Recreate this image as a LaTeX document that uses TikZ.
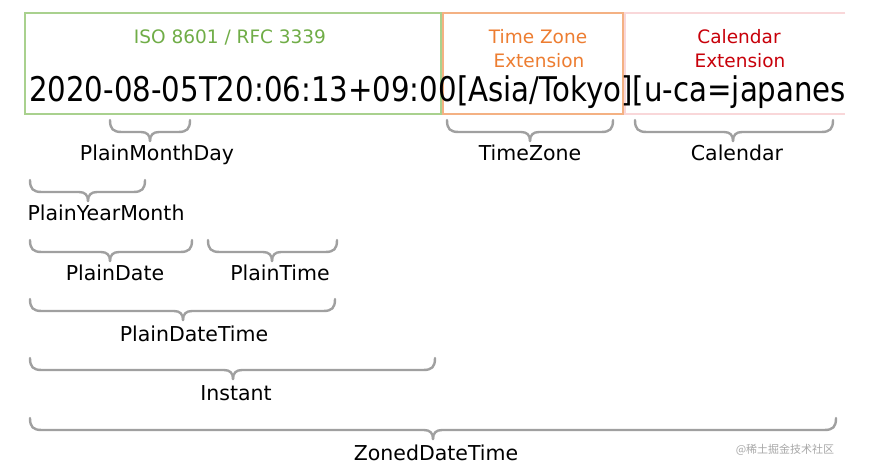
\documentclass[tikz,border=0pt]{standalone}
\usepackage{fontspec}
\setmainfont{DejaVu Sans}
\newfontfamily\cjkfont{Noto Sans CJK SC}
\usepackage{graphicx}
\definecolor{isoText}{HTML}{70AD47}
\definecolor{isoLine}{HTML}{A9D18E}
\definecolor{tzText}{HTML}{ED7D31}
\definecolor{tzLine}{HTML}{F4B183}
\definecolor{calText}{HTML}{C8000A}
\definecolor{calLine}{HTML}{F9D7D9}
\definecolor{braceGray}{HTML}{A0A0A0}
\definecolor{markGray}{HTML}{A8A8A8}
\tikzset{
  bracestyle/.style={draw=braceGray, line width=2.4pt, line cap=round, line join=round},
  lbl/.style={anchor=base, inner sep=0pt, font=\fontsize{20.5}{24}\selectfont, text=black},
  hdr/.style={anchor=base, inner sep=0pt, font=\fontsize{18.5}{24}\selectfont},
  boxline/.style={line width=2pt}
}
\newcommand\mybrace[4]{% x1 x2 tip top
  \draw[bracestyle] (#1,#4) .. controls (#1,#4+9) and (#1+3,#4+12) .. (#1+12,#4+12)
     -- (#3-9,#4+12) .. controls (#3-3,#4+12) and (#3,#4+15) .. (#3,#4+21);
  \draw[bracestyle] (#3,#4+21) .. controls (#3,#4+15) and (#3+3,#4+12) .. (#3+9,#4+12)
     -- (#2-12,#4+12) .. controls (#2-3,#4+12) and (#2,#4+9) .. (#2,#4);
}
\begin{document}
\begin{tikzpicture}[x=1pt,y=-1pt]
\useasboundingbox (0,0) rectangle (880,466);
\fill[white] (0,0) rectangle (880,466);

% boxes
\draw[boxline, isoLine] (25,13) rectangle (441,114);
\draw[boxline, tzLine] (443,13) rectangle (623,114);
\draw[boxline, calLine] (845,13) -- (625,13) -- (625,114) -- (845,114);

% main string
\node[anchor=base west, inner sep=0pt] (big) at (29,101)
  {\resizebox{817pt}{\height}{\fontsize{34}{34}\selectfont 2020-08-05T20:06:13+09:00[Asia/Tokyo][u-ca=japanes}};

% headers
\node[hdr, text=isoText] (iso) at (230,43) {ISO 8601 / RFC 3339};
\node[hdr, text=tzText] (tz1) at (538,43) {Time Zone};
\node[hdr, text=tzText] (tz2) at (539,67) {Extension};
\node[hdr, text=calText] (cal1) at (739,43) {Calendar};
\node[hdr, text=calText] (cal2) at (740,67) {Extension};

% braces and labels
\mybrace{110}{190}{150}{120}
\node[lbl] (pmd) at (157,160) {PlainMonthDay};
\mybrace{447}{613}{530}{120}
\node[lbl] (tzl) at (530,160) {TimeZone};
\mybrace{635}{833}{733}{120}
\node[lbl] (call) at (737,160) {Calendar};

\mybrace{30}{145}{88}{180}
\node[lbl] (pym) at (106,220) {PlainYearMonth};

\mybrace{30}{192}{110}{240}
\node[lbl] (pd) at (115,280) {PlainDate};
\mybrace{208}{337}{272}{240}
\node[lbl] (pt) at (280,280) {PlainTime};

\mybrace{30}{335}{183}{299}
\node[lbl] (pdt) at (194,341) {PlainDateTime};

\mybrace{30}{435}{233}{358}
\node[lbl] (inst) at (236,400) {Instant};

\mybrace{30}{836}{433}{418}
\node[lbl] (zdt) at (436,460) {ZonedDateTime};

% watermark
\node[anchor=center, inner sep=0pt, text=markGray, font=\cjkfont\fontsize{11}{11}\selectfont] (wm) at (785,450) {@稀土掘金技术社区};
\end{tikzpicture}
\end{document}
